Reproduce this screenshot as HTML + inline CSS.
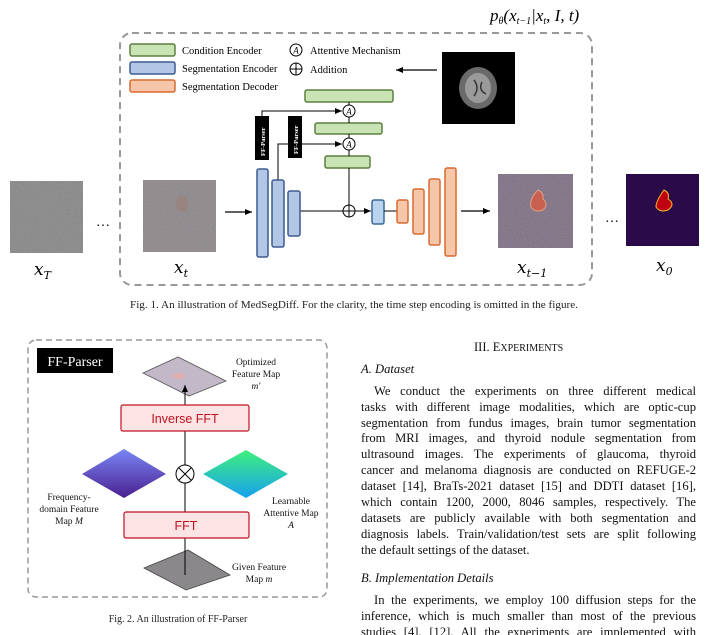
<!DOCTYPE html>
<html><head><meta charset="utf-8"><style>
html,body{margin:0;padding:0;background:#fff;width:706px;height:635px;overflow:hidden;position:relative}
.t{position:absolute;left:361px;width:335px;font-family:"Liberation Serif",serif;font-size:12.6px;line-height:15px;color:#111;white-space:nowrap;text-align:justify;text-align-last:justify}
.h{position:absolute;font-family:"Liberation Serif",serif;color:#111;white-space:nowrap}
svg{position:absolute;left:0;top:0}
</style></head><body>
<svg width="706" height="635" viewBox="0 0 706 635" font-family="Liberation Serif, serif">
<defs>
<filter id="nz" x="0" y="0" width="100%" height="100%"><feTurbulence type="fractalNoise" baseFrequency="0.9" numOctaves="1" seed="3"/><feColorMatrix type="matrix" values="0 0 0 0 0.5  0 0 0 0 0.5  0 0 0 0 0.5  0 0 0 0.9 0"/></filter>
<linearGradient id="pu" x1="0" y1="0" x2="0" y2="1"><stop offset="0" stop-color="#7a86f5"/><stop offset="1" stop-color="#4a1f90"/></linearGradient>
<linearGradient id="te" x1="0" y1="0" x2="0" y2="1"><stop offset="0" stop-color="#3ef07a"/><stop offset="1" stop-color="#18a0f0"/></linearGradient>
<marker id="ar" markerWidth="8" markerHeight="8" refX="7" refY="4" orient="auto" markerUnits="userSpaceOnUse"><path d="M0,1 L7,4 L0,7 z" fill="#000"/></marker>
</defs>
<text x="490" y="21" font-size="17" font-style="italic">p<tspan font-size="10" dy="3">θ</tspan><tspan dy="-3">(x</tspan><tspan font-size="10" dy="3">t−1</tspan><tspan dy="-3">|x</tspan><tspan font-size="10" dy="3">t</tspan><tspan dy="-3">, I, t)</tspan></text>
<rect x="120" y="33" width="472" height="252" rx="12" fill="none" stroke="#999" stroke-width="2" stroke-dasharray="7,5"/>
<rect x="130" y="44" width="45" height="12" rx="2" fill="#c8e3b4" stroke="#5a8040" stroke-width="1.5"/>
<rect x="130" y="62" width="45" height="12" rx="2" fill="#b2c6e6" stroke="#3c5a90" stroke-width="1.5"/>
<rect x="130" y="80" width="45" height="12" rx="2" fill="#f6c6aa" stroke="#d86a30" stroke-width="1.5"/>
<text x="182" y="54" font-size="10.5">Condition Encoder</text>
<text x="182" y="72" font-size="10.5">Segmentation Encoder</text>
<text x="182" y="90" font-size="10.5">Segmentation Decoder</text>
<circle cx="296" cy="50" r="6" fill="#fff" stroke="#000"/><text x="296" y="53.5" font-size="9" font-style="italic" text-anchor="middle">A</text>
<text x="310" y="54" font-size="10.5">Attentive Mechanism</text>
<circle cx="296" cy="69" r="6" fill="#fff" stroke="#000"/><path d="M290,69h12M296,63v12" stroke="#000"/>
<text x="310" y="73" font-size="10.5">Addition</text>
<rect x="442" y="52" width="73" height="72" fill="#000"/>
<ellipse cx="478" cy="88" rx="19" ry="21" fill="#6a6a6a"/>
<ellipse cx="478" cy="88" rx="13" ry="15" fill="#9a9a9a"/>
<path d="M474,80 q6,8 0,16 M482,82 q-4,8 4,12" stroke="#333" stroke-width="1.5" fill="none"/>
<line x1="437" y1="70" x2="396" y2="70" stroke="#000" stroke-width="1.2" marker-end="url(#ar)"/>
<rect x="305" y="90" width="88" height="12" rx="2" fill="#c8e3b4" stroke="#5a8040" stroke-width="1.5"/>
<rect x="315" y="123" width="67" height="11" rx="2" fill="#c8e3b4" stroke="#5a8040" stroke-width="1.5"/>
<rect x="325" y="156" width="45" height="12" rx="2" fill="#c8e3b4" stroke="#5a8040" stroke-width="1.5"/>
<path d="M349,102v3 M349,117v6 M349,134v4 M349,150v6 M349,168v37" stroke="#000" stroke-width="1"/>
<path d="M262,116V111H342" fill="none" stroke="#000" stroke-width="1" marker-end="url(#ar)"/>
<path d="M278,180V144H342" fill="none" stroke="#000" stroke-width="1" marker-end="url(#ar)"/>
<circle cx="349" cy="111" r="6" fill="#fff" stroke="#000"/><text x="349" y="114.5" font-size="9" font-style="italic" text-anchor="middle">A</text>
<circle cx="349" cy="144" r="6" fill="#fff" stroke="#000"/><text x="349" y="147.5" font-size="9" font-style="italic" text-anchor="middle">A</text>
<rect x="255" y="116" width="14" height="44" fill="#000"/>
<rect x="288" y="116" width="14" height="42" fill="#000"/>
<text transform="translate(265,156) rotate(-90)" font-size="6.5" fill="#fff" font-weight="bold">FF-Parser</text>
<text transform="translate(298,154) rotate(-90)" font-size="6.5" fill="#fff" font-weight="bold">FF-Parser</text>
<line x1="300" y1="211" x2="343" y2="211" stroke="#000"/>
<rect x="257" y="169" width="11" height="88" rx="2" fill="#b2c6e6" stroke="#3c5a90" stroke-width="1.5"/>
<rect x="272" y="180" width="12" height="67" rx="2" fill="#b2c6e6" stroke="#3c5a90" stroke-width="1.5"/>
<rect x="288" y="191" width="12" height="45" rx="2" fill="#b2c6e6" stroke="#3c5a90" stroke-width="1.5"/>
<circle cx="349" cy="211" r="6" fill="#fff" stroke="#000"/><path d="M343,211h12M349,205v12" stroke="#000"/>
<line x1="355" y1="211" x2="371" y2="211" stroke="#000" marker-end="url(#ar)"/>
<rect x="372" y="200" width="12" height="24" rx="2" fill="#b8d4ee" stroke="#3c6a9a" stroke-width="1.5"/>
<line x1="384" y1="211" x2="397" y2="211" stroke="#000"/>
<rect x="397" y="200" width="11" height="23" rx="2" fill="#f6c6aa" stroke="#d86a30" stroke-width="1.5"/>
<rect x="413" y="189" width="11" height="45" rx="2" fill="#f6c6aa" stroke="#d86a30" stroke-width="1.5"/>
<rect x="429" y="179" width="11" height="66" rx="2" fill="#f6c6aa" stroke="#d86a30" stroke-width="1.5"/>
<rect x="445" y="168" width="11" height="88" rx="2" fill="#f6c6aa" stroke="#d86a30" stroke-width="1.5"/>
<line x1="225" y1="212" x2="252" y2="212" stroke="#000" stroke-width="1.2" marker-end="url(#ar)"/>
<line x1="461" y1="211" x2="490" y2="211" stroke="#000" stroke-width="1.2" marker-end="url(#ar)"/>
<rect x="10" y="181" width="73" height="72" fill="#808080"/><rect x="10" y="181" width="73" height="72" filter="url(#nz)" opacity="0.5"/>
<rect x="143" y="180" width="73" height="72" fill="#858083"/><rect x="143" y="180" width="73" height="72" filter="url(#nz)" opacity="0.5"/>
<ellipse cx="182" cy="204" rx="6" ry="8" fill="#a07a70" opacity="0.5"/>
<rect x="498" y="174" width="75" height="74" fill="#7a6a80"/><rect x="498" y="174" width="75" height="74" filter="url(#nz)" opacity="0.4"/>
<path d="M538,190 q6,3 5,9 q6,5 0,11 q-8,3 -12,-3 q-2,-8 7,-17z" fill="#c86050" stroke="#e0a080"/>
<rect x="626" y="174" width="73" height="72" fill="#2a0a48"/>
<path d="M664,190 q6,3 4,9 q8,5 0,11 q-8,3 -12,-3 q0,-6 8,-17z" fill="#c00010" stroke="#f0c020"/>
<text x="96" y="226" font-size="14">…</text>
<text x="605" y="222" font-size="14">…</text>
<g font-family="DejaVu Serif, serif" font-style="italic" font-size="17">
<text x="34" y="275">x<tspan font-size="11" dy="4">T</tspan></text>
<text x="174" y="273">x<tspan font-size="11" dy="4">t</tspan></text>
<text x="517" y="273">x<tspan font-size="11" dy="4">t−1</tspan></text>
<text x="656" y="271">x<tspan font-size="11" dy="4">0</tspan></text>
</g>
<text x="130" y="308" font-size="10.5" fill="#222" textLength="448" lengthAdjust="spacingAndGlyphs">Fig. 1.  An illustration of MedSegDiff. For the clarity, the time step encoding is omitted in the figure.</text>
<rect x="28" y="340" width="299" height="257" rx="8" fill="none" stroke="#999" stroke-width="1.5" stroke-dasharray="6,4"/>
<rect x="37" y="348" width="76" height="25" fill="#000"/>
<text x="75" y="366" font-size="14" fill="#fff" text-anchor="middle">FF-Parser</text>
<path d="M143,373 L178,357 L226,381 L189,396z" fill="#c2b8c8" stroke="#555" stroke-width="0.8"/>
<ellipse cx="179" cy="376" rx="6" ry="3" fill="#e0b0b0"/>
<path d="M144,568 L188,550 L230,575 L186,590z" fill="#8a888a" stroke="#444" stroke-width="0.8"/>
<line x1="185" y1="575" x2="185" y2="538" stroke="#000"/>
<line x1="185" y1="512" x2="185" y2="483" stroke="#000"/>
<line x1="185" y1="465" x2="185" y2="431" stroke="#000"/>
<line x1="185" y1="405" x2="185" y2="385" stroke="#000" marker-end="url(#ar)"/>
<path d="M82,474 L124,449 L166,474 L124,498z" fill="url(#pu)"/>
<path d="M203,474 L246,450 L288,474 L246,498z" fill="url(#te)"/>
<circle cx="185" cy="474" r="9" fill="#fff" stroke="#000"/><path d="M179,468l12,12M191,468l-12,12" stroke="#000"/>
<rect x="121" y="405" width="128" height="26" rx="2" fill="#fde4e4" stroke="#c01020" stroke-width="1.2"/>
<text x="185" y="423" font-family="Liberation Sans, sans-serif" font-size="12.5" fill="#c01020" text-anchor="middle">Inverse FFT</text>
<rect x="124" y="512" width="125" height="26" rx="2" fill="#fde4e4" stroke="#c01020" stroke-width="1.2"/>
<text x="186" y="530" font-family="Liberation Sans, sans-serif" font-size="12.5" fill="#c01020" text-anchor="middle">FFT</text>
<g font-size="9.5" text-anchor="middle" fill="#111">
<text x="256" y="365">Optimized</text><text x="256" y="377">Feature Map</text><text x="256" y="389" font-style="italic">m′</text>
<text x="69" y="500">Frequency-</text><text x="69" y="512">domain Feature</text><text x="69" y="524">Map <tspan font-style="italic">M</tspan></text>
<text x="291" y="504">Learnable</text><text x="291" y="516">Attentive Map</text><text x="291" y="528" font-style="italic">A</text>
<text x="259" y="570">Given Feature</text><text x="259" y="582">Map <tspan font-style="italic">m</tspan></text>
</g>
<text x="178" y="622" font-size="10" text-anchor="middle" fill="#222">Fig. 2.  An illustration of FF-Parser</text>
</svg>
<div class="h" style="left:474px;top:340px;font-size:12.5px">III. E<span style="font-size:10px">XPERIMENTS</span></div>
<div class="h" style="left:361px;top:362px;font-size:12.6px;font-style:italic">A. Dataset</div>
<div class="t" style="top:384px;left:374px;width:322px">We conduct the experiments on three different medical</div>
<div class="t" style="top:400px">tasks with different image modalities, which are optic-cup</div>
<div class="t" style="top:416px">segmentation from fundus images, brain tumor segmentation</div>
<div class="t" style="top:431px">from MRI images, and thyroid nodule segmentation from</div>
<div class="t" style="top:447px">ultrasound images. The experiments of glaucoma, thyroid</div>
<div class="t" style="top:463px">cancer and melanoma diagnosis are conducted on REFUGE-2</div>
<div class="t" style="top:479px">dataset [14], BraTs-2021 dataset [15] and DDTI dataset [16],</div>
<div class="t" style="top:495px">which contain 1200, 2000, 8046 samples, respectively. The</div>
<div class="t" style="top:511px">datasets are publicly available with both segmentation and</div>
<div class="t" style="top:527px">diagnosis labels. Train/validation/test sets are split following</div>
<div class="t" style="top:543px;text-align-last:left">the default settings of the dataset.</div>
<div class="h" style="left:361px;top:571px;font-size:12.6px;font-style:italic">B. Implementation Details</div>
<div class="t" style="top:593px;left:374px;width:322px">In the experiments, we employ 100 diffusion steps for the</div>
<div class="t" style="top:609px">inference, which is much smaller than most of the previous</div>
<div class="t" style="top:625px">studies [4], [12]. All the experiments are implemented with</div>
</body></html>
